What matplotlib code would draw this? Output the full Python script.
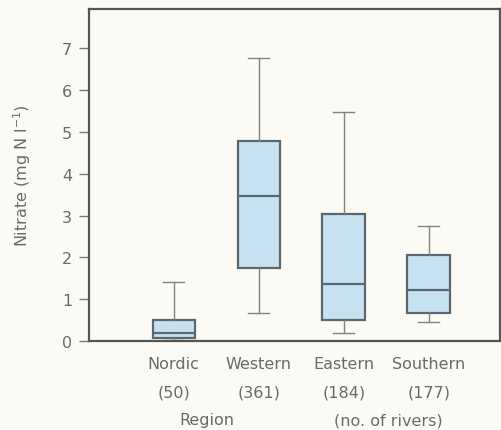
import matplotlib.pyplot as plt
from matplotlib import transforms

plt.rcParams['font.family'] = ['DejaVu Sans']

regions = ['Nordic', 'Western', 'Eastern', 'Southern']
n_rivers = [50, 361, 184, 177]

# box statistics (mg N l-1)
whislo = [0.02, 0.68, 0.20, 0.46]
q1 = [0.07, 1.75, 0.51, 0.67]
med = [0.20, 3.47, 1.37, 1.21]
q3 = [0.50, 4.77, 3.03, 2.05]
whishi = [1.41, 6.76, 5.48, 2.75]

bg = '#fbfaf5'
text_col = '#6a6a6a'
edge_col = '#5a6670'

stats = []
for i in range(len(regions)):
    stats.append({'whislo': whislo[i], 'q1': q1[i], 'med': med[i],
                  'q3': q3[i], 'whishi': whishi[i], 'fliers': []})

fig = plt.figure(figsize=(5.02, 4.31), dpi=100, facecolor=bg)
ax = fig.add_axes([0.177, 0.2065, 0.819, 0.7705], facecolor=bg)

ax.bxp(stats, positions=[1, 2, 3, 4], widths=0.5, patch_artist=True,
       showfliers=False,
       boxprops=dict(facecolor='#c6e2f1', edgecolor=edge_col, linewidth=1.6),
       medianprops=dict(color=edge_col, linewidth=1.6),
       whiskerprops=dict(color='#7d8388', linewidth=1.0),
       capprops=dict(color='#7d8388', linewidth=1.0))

ax.set_xlim(0, 4.84)
ax.set_ylim(0, 7.94)
ax.set_yticks(range(8))

ax.set_xticks([1, 2, 3, 4])
ax.set_xticklabels(['%s\n(%d)' % (r, n) for r, n in zip(regions, n_rivers)])
for lab in ax.get_xticklabels():
    lab.set_linespacing(2.1)

ax.tick_params(axis='x', length=0, pad=11, labelsize=11.5, labelcolor=text_col)
ax.tick_params(axis='y', length=7, width=1, color='#777777', pad=5,
               labelsize=11.5, labelcolor=text_col)

for side in ['top', 'bottom', 'left', 'right']:
    ax.spines[side].set_color('#555555')
    ax.spines[side].set_linewidth(1.6)

ax.set_ylabel('Nitrate (mg N l$^{-1}$)', fontsize=11.5, color=text_col, labelpad=21)

trans = transforms.blended_transform_factory(ax.transData, fig.transFigure)
ax.text(1.39, 1 - 421 / 431, 'Region', transform=trans, ha='center', va='center',
        fontsize=11.5, color=text_col)
ax.text(3.52, 1 - 421 / 431, '(no. of rivers)', transform=trans, ha='center',
        va='center', fontsize=11.5, color=text_col)

plt.savefig('out.png', dpi=100, facecolor=bg)
